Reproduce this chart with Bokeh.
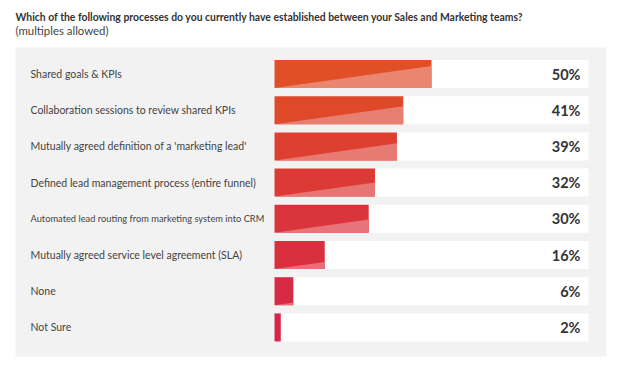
from bokeh.plotting import figure
from bokeh.models import Range1d
from bokeh.core.properties import value
from bokeh.embed import file_html
from bokeh.resources import INLINE

# ---- data ----
categories = [
    "Shared goals & KPIs",
    "Collaboration sessions to review shared KPIs",
    "Mutually agreed definition of a 'marketing lead'",
    "Defined lead management process (entire funnel)",
    "Automated lead routing from marketing system into CRM",
    "Mutually agreed service level agreement (SLA)",
    "None",
    "Not Sure",
]
percent = [50, 41, 39, 32, 30, 16, 6, 2]
title_text = "Which of the following processes do you currently have established between your Sales and Marketing teams?"
subtitle_text = "(multiples allowed)"

# ---- styles ----
bar_colors = ["#E14F26", "#DF4829", "#DD4030", "#DC3A35", "#DA353C", "#D9303F", "#D72B44", "#D5264A"]
light_colors = ["#E98570", "#E87E6F", "#E77A72", "#E67674", "#E67478", "#E5707A", "#E46C7C", "#E36B80"]
label_sizes = ["10.5px", "10.5px", "10.5px", "10.5px", "9.3px", "10.5px", "10.5px", "10.5px"]

W, H = 610, 360
ORIGIN = 0
PX_PER_PCT = 3.14          # track width 314 px for 100 %
TRACK_LEFT_PAGE = 274
ROW0_PAGE = 73.5
ROW_PITCH = 36.2
BAR_PX = 28
SLOPE = 0.14

def dx(page_x):
    return (page_x - TRACK_LEFT_PAGE) / PX_PER_PCT

def dy(page_y):
    return (page_y - ROW0_PAGE) / ROW_PITCH

x0 = dx(ORIGIN)
x1 = dx(ORIGIN + W)
y_top = dy(ORIGIN)
y_bot = dy(ORIGIN + H)

p = figure(width=W, height=H, output_backend="svg", toolbar_location=None,
           x_range=Range1d(x0, x1), y_range=Range1d(y_bot, y_top),
           min_border=0, min_border_left=0, min_border_right=0,
           min_border_top=0, min_border_bottom=0)
p.axis.visible = False
p.grid.visible = False
p.outline_line_color = None
p.background_fill_color = "white"
p.border_fill_color = "white"

# gray panel
p.quad(left=[dx(15)], right=[dx(606)], top=[dy(47)], bottom=[dy(356)],
       fill_color="#F2F2F2", line_color=None)

rows = list(range(len(categories)))
h = BAR_PX / ROW_PITCH

# white tracks
p.hbar(y=rows, left=0, right=[100] * len(rows), height=h, fill_color="white", line_color=None)

# bars
p.hbar(y=rows, left=0, right=percent, height=h, fill_color=bar_colors, line_color=None)

# lighter diagonal triangles
xs, ys = [], []
for i, v in enumerate(percent):
    bottom = i + h / 2
    rise = min(SLOPE * v * PX_PER_PCT, BAR_PX) / ROW_PITCH
    xs.append([0, v, v])
    ys.append([bottom, bottom, bottom - rise])
p.patches(xs, ys, fill_color=light_colors, line_color=None)

# category labels
p.text(x=[dx(30)] * len(rows), y=rows, text=categories,
       text_font=value("Lato"), text_font_size=label_sizes, text_color="#444444",
       text_baseline="middle", text_align="left")

# value labels
p.text(x=[dx(580)] * len(rows), y=rows, text=[f"{v}%" for v in percent],
       text_font=value("Lato"), text_font_size="14.5px", text_font_style="bold",
       text_color="#333333", text_baseline="middle", text_align="right")

# titles
p.text(x=[dx(15)], y=[dy(16)], text=[title_text], text_font=value("Lato"),
       text_font_size="10.4px", text_font_style="bold", text_color="#333333",
       text_baseline="alphabetic", text_align="left")
p.text(x=[dx(15)], y=[dy(29.5)], text=[subtitle_text], text_font=value("Lato"),
       text_font_size="11.4px", text_color="#444444",
       text_baseline="alphabetic", text_align="left")

open("out.html", "w").write(file_html(p, INLINE))
